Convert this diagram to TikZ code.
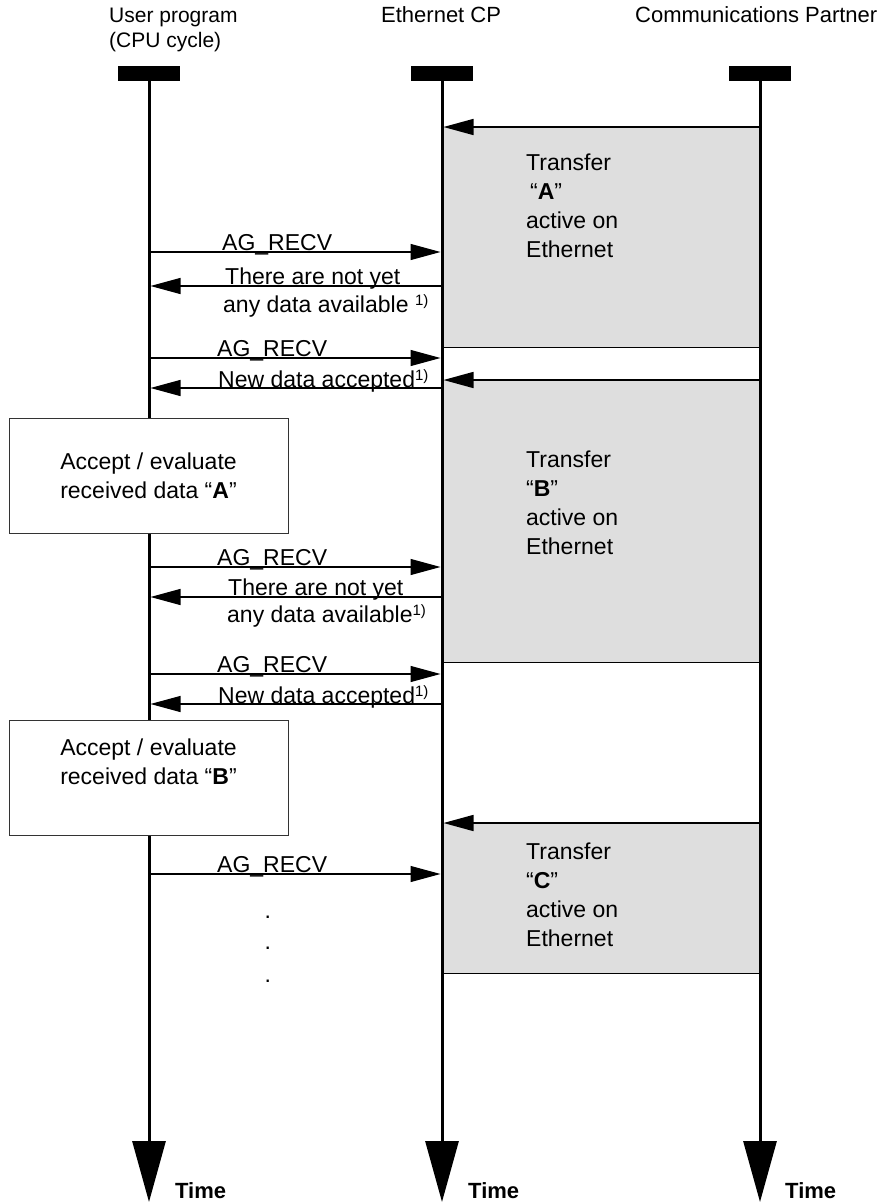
\documentclass[tikz,border=0pt]{standalone}
\usepackage{fontspec}
\setmainfont{Liberation Sans}
\usetikzlibrary{arrows.meta,positioning}

\newcommand{\fnote}{\raisebox{0.55ex}{\fontsize{15}{15}\selectfont 1)}}

\begin{document}
\begin{tikzpicture}[x=1pt, y=-1pt,
  font=\fontsize{23}{28.7}\selectfont,
  >={Triangle[length=30pt, width=16pt]},
  bar/.style={fill=black, inner sep=0pt, minimum width=62pt, minimum height=15pt},
  life/.style={line width=3pt, -{Triangle[length=61pt, width=33pt]}},
  msg/.style={->, line width=1.2pt},
  lbl/.style={anchor=base west, inner sep=0pt},
  xfer/.style={fill=black!13, inner sep=0pt, anchor=north west, minimum width=318pt},
  txt/.style={align=left, anchor=base west, inner sep=0pt},
  acc/.style={draw=black!80, line width=1pt, fill=white, minimum width=279pt, minimum height=115pt},
  endl/.style={line width=1.6pt},
  ttl/.style={anchor=base west, inner sep=0pt, font=\fontsize{22}{26}\selectfont},
  tm/.style={anchor=base west, inner sep=0pt, font=\fontsize{22}{26}\selectfont\bfseries},
]
\useasboundingbox (0,0) rectangle (877,1204);

% headings
\node[ttl, font=\fontsize{21}{24}\selectfont] (tuser) at (109,23) {User program};
\node[ttl, font=\fontsize{21}{24}\selectfont] (tcpu) at (109,48) {(CPU cycle)};
\node[ttl] (tcp) at (381,23) {Ethernet CP};
\node[ttl] (tpart) at (635,23) {Communications Partner};

% transfer windows on Ethernet
\node[xfer, minimum height=220pt] (winA) at (442,127) {};
\node[xfer, minimum height=282pt] (winB) at (442,380) {};
\node[xfer, minimum height=150pt] (winC) at (442,823) {};
\draw[endl] (winA.south west) -- (winA.south east);
\draw[endl] (winB.south west) -- (winB.south east);
\draw[endl] (winC.south west) -- (winC.south east);
% (base = last line)
\node[txt] (xA) at (526,257) {Transfer\\\hspace*{4pt}“\textbf{A}”\\active on\\Ethernet};
\node[txt] (xB) at (526,554) {Transfer\\“\textbf{B}”\\active on\\Ethernet};
\node[txt] (xC) at (526,946) {Transfer\\“\textbf{C}”\\active on\\Ethernet};

% lifelines
\node[bar] (buser) at (149,73.5) {};
\node[bar] (bcp) at (442,73.5) {};
\node[bar] (bpart) at (760,73.5) {};
\coordinate (euser) at (149,1202);
\coordinate (ecp) at (442,1202);
\coordinate (epart) at (760,1202);
\draw[life] (buser.south) -- (euser);
\draw[life] (bcp.south) -- (ecp);
\draw[life] (bpart.south) -- (epart);
\node[tm] (time1) at (175,1198) {Time};
\node[tm] (time2) at (468,1198) {Time};
\node[tm] (time3) at (785,1198) {Time};

% calls and replies
\foreach \n/\y in {1/252, 2/286, 3/358, 4/388, 5/567, 6/597, 7/674, 8/704, 9/874} {
  \coordinate (u\n) at (150.5,\y);
  \coordinate (c\n) at (440.5,\y);
}
\foreach \n/\y in {1/127, 2/380, 3/823} {
  \coordinate (p\n) at (760,\y);
  \coordinate (q\n) at (443.5,\y);
}
\draw[msg, line width=1.5pt] (p1) -- (q1);
\draw[msg, line width=1.5pt] (p2) -- (q2);
\draw[msg, line width=1.5pt] (p3) -- (q3);

\draw[msg] (u1) -- (c1);
\node[lbl] (l1) at (222,250) {AG\_RECV};
\draw[msg] (c2) -- (u2);
\node[lbl] (l2) at (225,284) {There are not yet};
\node[lbl] (l2b) at (223,312) {any data available \fnote};
\draw[msg] (u3) -- (c3);
\node[lbl] (l3) at (217,356) {AG\_RECV};
\draw[msg] (c4) -- (u4);
\node[lbl] (l4) at (218,387) {New data accepted\fnote};

\draw[msg] (u5) -- (c5);
\node[lbl] (l5) at (217,565) {AG\_RECV};
\draw[msg] (c6) -- (u6);
\node[lbl] (l6) at (228,595) {There are not yet};
\node[lbl] (l6b) at (227,622) {any data available\fnote};
\draw[msg] (u7) -- (c7);
\node[lbl] (l7) at (217,672) {AG\_RECV};
\draw[msg] (c8) -- (u8);
\node[lbl] (l8) at (218,703) {New data accepted\fnote};

\draw[msg] (u9) -- (c9);
\node[lbl] (l9) at (217,872) {AG\_RECV};
\node[lbl] (dot1) at (264.5,918.5) {.};
\node[lbl] (dot2) at (264.5,949.5) {.};
\node[lbl] (dot3) at (264.5,982.5) {.};

% evaluation in the user program
\node[acc] (accA) at (148.5,475.5) {};
\node[align=center] (accAt) at (148.5,476) {Accept / evaluate\\received data “\textbf{A}”};
\node[acc] (accB) at (148.5,777.5) {};
\node[align=center] (accBt) at (148.5,762) {Accept / evaluate\\received data “\textbf{B}”};
\end{tikzpicture}
\end{document}
